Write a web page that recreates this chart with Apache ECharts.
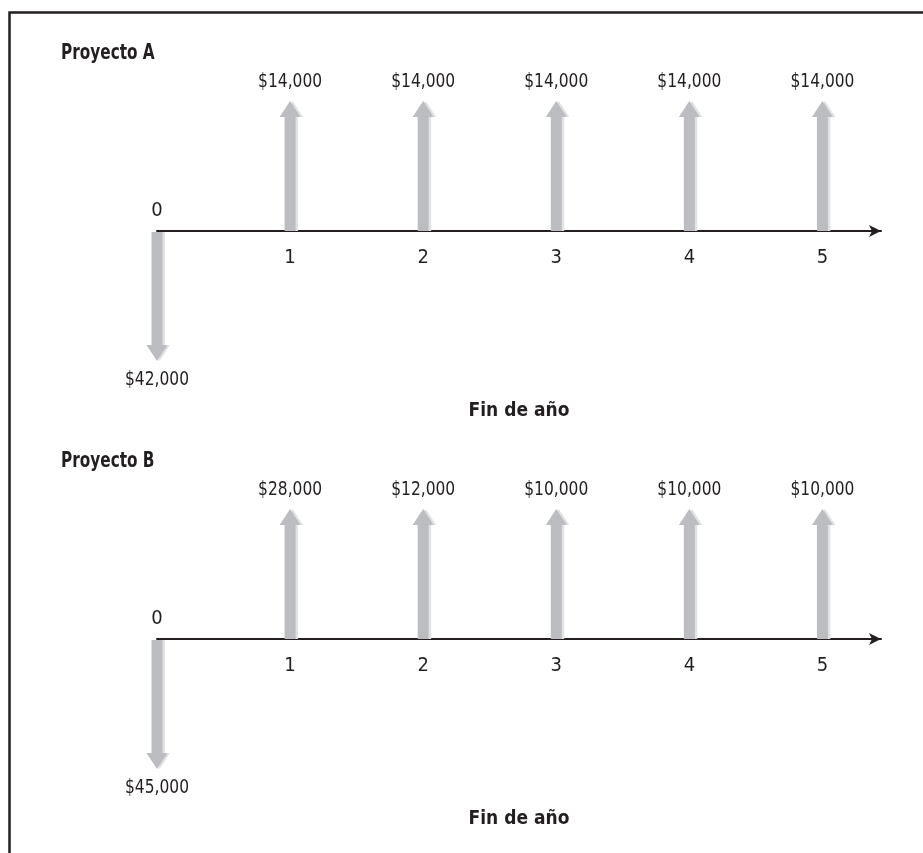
<!DOCTYPE html>
<html>
<head>
<meta charset="utf-8">
<script src="https://cdn.jsdelivr.net/npm/echarts@6/dist/echarts.min.js"></script>
<style>
html,body{margin:0;padding:0;background:#fff;}
#chart{width:923px;height:853px;}
</style>
</head>
<body>
<div id="chart"></div>
<script>
// ---- data ----
const years = [0, 1, 2, 3, 4, 5];
const yearLabels = ['0', '1', '2', '3', '4', '5'];
const flowsA = [-42000, 14000, 14000, 14000, 14000, 14000];
const flowsB = [-45000, 28000, 12000, 10000, 10000, 10000];
const projectNames = ['Proyecto A', 'Proyecto B'];
const axisTitle = 'Fin de año';

// ---- style ----
const FONT = "'Liberation Sans Narrow','Noto Sans Condensed','DejaVu Sans Condensed','Arial Narrow',sans-serif";
const INK = '#231f20';
const ARROW = '#bcbdc0';
const ARROW_LIGHT = '#e1e2e4';

function fmtMoney(v) {
  return '$' + Math.abs(v).toLocaleString('en-US');
}

function arrowPoints(cx, baseY, tipY, dx) {
  const dir = tipY < baseY ? 1 : -1; // 1 = up
  const hb = tipY + dir * 16;
  const sh = 5.5, hw = 10.5;
  return [
    [cx - sh + dx, baseY], [cx - sh + dx, hb], [cx - hw + dx, hb],
    [cx + dx, tipY], [cx + hw + dx, hb], [cx + sh + dx, hb], [cx + sh + dx, baseY]
  ];
}

function renderArrow(params, api) {
  const x = api.value(0);
  const v = api.value(1);
  const base = api.coord([x, 0]);
  const tip = api.coord([x, Math.sign(v)]);
  const up = v > 0;
  const baseY = base[1] + (up ? 0 : 1);
  const children = [
    { type: 'polygon', shape: { points: arrowPoints(base[0], baseY, tip[1], 2.5) }, style: { fill: ARROW_LIGHT } },
    { type: 'polygon', shape: { points: arrowPoints(base[0], baseY, tip[1], 0) }, style: { fill: ARROW } },
    { type: 'text', x: base[0], y: tip[1] + (up ? -19 : 19), scaleX: 0.86,
      style: { text: fmtMoney(v), fill: INK, font: '20px ' + FONT, align: 'center', verticalAlign: 'middle' } }
  ];
  if (x === 0) {
    children.push({ type: 'text', x: base[0], y: base[1] - 20,
      style: { text: yearLabels[0], fill: INK, font: '20px ' + FONT, align: 'center', verticalAlign: 'middle' } });
  }
  return { type: 'group', children: children };
}

const panelTops = [101, 509];
const flows = [flowsA, flowsB];

const option = {
  animation: false,
  backgroundColor: '#fff',
  grid: panelTops.map(t => ({ left: 157, right: 42, top: t, height: 130, outerBoundsMode: 'none' })),
  xAxis: panelTops.map((t, i) => ({
    type: 'value', gridIndex: i, min: 0, max: 5.44, interval: 1,
    name: axisTitle, nameLocation: 'middle', nameGap: 171,
    nameTextStyle: { fontFamily: FONT, fontSize: 19, fontWeight: 'bold', color: INK },
    axisLine: { onZero: false, lineStyle: { color: INK, width: 2 }, symbol: ['none', 'arrow'], symbolSize: [9, 12] },
    axisTick: { show: false },
    splitLine: { show: false },
    axisLabel: {
      margin: 17, fontFamily: FONT, fontSize: 20, color: INK,
      showMinLabel: true, showMaxLabel: true,
      formatter: v => (Number.isInteger(v) && v > 0 && v < yearLabels.length) ? yearLabels[v] : ''
    }
  })),
  yAxis: panelTops.map((t, i) => ({
    type: 'value', gridIndex: i, min: 0, max: 1, show: false
  })),
  series: flows.map((f, i) => ({
    type: 'custom', xAxisIndex: i, yAxisIndex: i, clip: false,
    data: years.map((y, k) => [y, f[k]]),
    renderItem: renderArrow
  })),
  graphic: [
    {
      type: 'polyline', silent: true,
      shape: { points: [[9.5, 853], [9.5, 12.5], [923, 12.5]] },
      style: { stroke: INK, lineWidth: 2.5, fill: null }
    }
  ].concat(projectNames.map((n, i) => ({
    type: 'text', silent: true, x: 61, y: panelTops[i] - 47, scaleX: 0.81,
    style: { text: n, fill: INK, font: 'bold 21px ' + FONT, align: 'left', verticalAlign: 'middle' }
  })))
};

const chart = echarts.init(document.getElementById('chart'), null, { renderer: 'canvas' });
chart.setOption(option);
</script>
</body>
</html>
